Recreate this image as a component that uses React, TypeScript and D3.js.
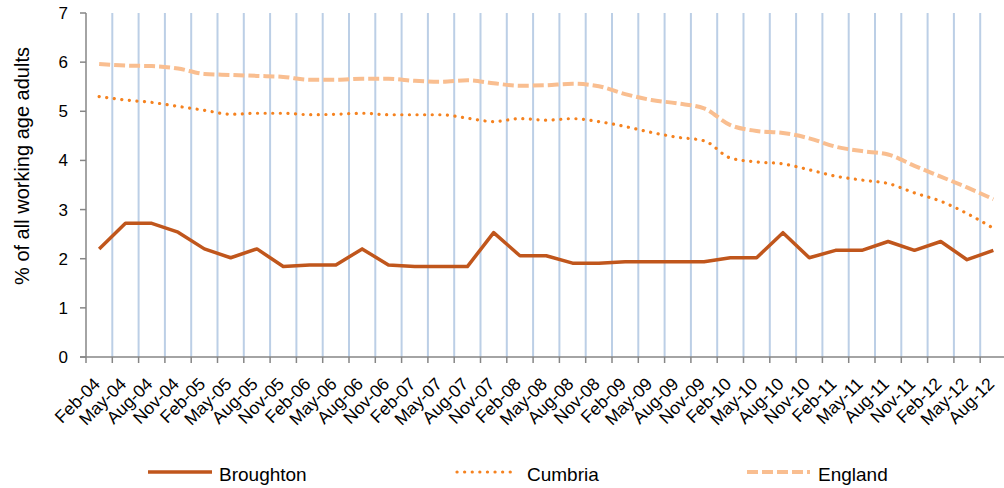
import React from "react";
import * as d3 from "d3";

const categories = [
  "Feb-04", "May-04", "Aug-04", "Nov-04",
  "Feb-05", "May-05", "Aug-05", "Nov-05",
  "Feb-06", "May-06", "Aug-06", "Nov-06",
  "Feb-07", "May-07", "Aug-07", "Nov-07",
  "Feb-08", "May-08", "Aug-08", "Nov-08",
  "Feb-09", "May-09", "Aug-09", "Nov-09",
  "Feb-10", "May-10", "Aug-10", "Nov-10",
  "Feb-11", "May-11", "Aug-11", "Nov-11",
  "Feb-12", "May-12", "Aug-12",
];

const broughton = [
  2.2, 2.72, 2.72, 2.54, 2.2, 2.02, 2.2, 1.84, 1.87, 1.87,
  2.2, 1.87, 1.84, 1.84, 1.84, 2.53, 2.06, 2.06, 1.91, 1.91,
  1.94, 1.94, 1.94, 1.94, 2.02, 2.02, 2.53, 2.02, 2.17, 2.17,
  2.35, 2.17, 2.35, 1.98, 2.17,
];

const cumbria = [
  5.3, 5.23, 5.18, 5.1, 5.02, 4.94, 4.96, 4.96, 4.93, 4.94,
  4.96, 4.93, 4.93, 4.93, 4.86, 4.79, 4.85, 4.82, 4.85, 4.79,
  4.69, 4.57, 4.47, 4.4, 4.05, 3.97, 3.93, 3.81, 3.68, 3.6,
  3.53, 3.34, 3.17, 2.92, 2.62,
];

const england = [
  5.96, 5.93, 5.92, 5.87, 5.76, 5.74, 5.72, 5.7, 5.64, 5.64,
  5.66, 5.66, 5.62, 5.6, 5.63, 5.57, 5.52, 5.53, 5.56, 5.51,
  5.35, 5.23, 5.16, 5.06, 4.72, 4.6, 4.56, 4.45, 4.28, 4.19,
  4.12, 3.89, 3.67, 3.45, 3.21,
];

const yTicks = [0, 1, 2, 3, 4, 5, 6, 7];

const seriesNames = ["Broughton", "Cumbria", "England"];

const W = 1004;
const H = 488;
const FONT = "'Liberation Sans', Arial, Helvetica, sans-serif";

const COL_B = "#c0561c";
const COL_C = "#f5821f";
const COL_E = "#f9be90";

export default function App() {
  const left = 86;
  const step = 26.3;
  const x = d3
    .scaleBand<string>()
    .domain(categories)
    .range([left, left + step * categories.length])
    .padding(0);
  const y = d3.scaleLinear().domain([0, 7]).range([357, 13]);
  const cx = (i: number) => (x(categories[i]) as number) + x.bandwidth() / 2;

  const straight = d3
    .line<number>()
    .x((_, i) => cx(i))
    .y((d) => y(d));
  const smooth = d3
    .line<number>()
    .x((_, i) => cx(i))
    .y((d) => y(d))
    .curve(d3.curveMonotoneX);

  const boundaries = d3.range(categories.length + 1).map((i) => left + i * x.step());

  const legend = [
    { name: seriesNames[0], x1: 148, x2: 212, tx: 219, color: COL_B, dash: "", w: 3.5, cap: "butt" },
    { name: seriesNames[1], x1: 457, x2: 512, tx: 527, color: COL_C, dash: "0.1,7.5", w: 3.2, cap: "round" },
    { name: seriesNames[2], x1: 747, x2: 810, tx: 818, color: COL_E, dash: "11,4", w: 4, cap: "butt" },
  ];

  return (
    <svg
      width={W}
      height={H}
      style={{ position: "absolute", left: 0, top: 0, background: "#fff" }}
      fontFamily={FONT}
    >
      <rect x={0} y={0} width={W} height={H} fill="#fff" />
      {/* vertical gridlines */}
      {boundaries.slice(1).map((bx, i) => (
        <line key={"g" + i} x1={bx} x2={bx} y1={y(7)} y2={y(0)} stroke="#bccfe6" strokeWidth={2} />
      ))}
      {/* y axis */}
      <line x1={left} x2={left} y1={y(7)} y2={y(0)} stroke="#868686" strokeWidth={1.5} />
      {yTicks.map((t) => (
        <g key={"yt" + t}>
          <line x1={left - 6} x2={left} y1={y(t)} y2={y(t)} stroke="#868686" strokeWidth={1.5} />
          <text x={68} y={y(t)} dy="0.35em" textAnchor="end" fontSize={17} fill="#000">
            {t}
          </text>
        </g>
      ))}
      {/* x axis */}
      <line x1={left - 6} x2={W + 10} y1={y(0)} y2={y(0)} stroke="#868686" strokeWidth={1.5} />
      {boundaries.map((bx, i) => (
        <line key={"xt" + i} x1={bx} x2={bx} y1={y(0)} y2={y(0) + 6} stroke="#868686" strokeWidth={1.5} />
      ))}
      {categories.map((c, i) => (
        <text
          key={"xl" + c}
          transform={`translate(${cx(i) + 2},${385}) rotate(-45)`}
          textAnchor="end"
          fontSize={17.5}
          fill="#000"
        >
          {c}
        </text>
      ))}
      {/* y title */}
      <text
        transform={`translate(29,166) rotate(-90)`}
        textAnchor="middle"
        fontSize={20}
        fill="#000"
      >
        % of all working age adults
      </text>
      {/* series */}
      <path d={smooth(england) || ""} fill="none" stroke={COL_E} strokeWidth={4} strokeDasharray="11,4" />
      <path
        d={smooth(cumbria) || ""}
        fill="none"
        stroke={COL_C}
        strokeWidth={3.2}
        strokeDasharray="0.1,7.5"
        strokeLinecap="round"
      />
      <path d={straight(broughton) || ""} fill="none" stroke={COL_B} strokeWidth={3.5} strokeLinejoin="round" />
      {/* legend */}
      {legend.map((l) => (
        <g key={"lg" + l.name}>
          <line
            x1={l.x1}
            x2={l.x2}
            y1={472}
            y2={472}
            stroke={l.color}
            strokeWidth={l.w}
            strokeDasharray={l.dash || undefined}
            strokeLinecap={l.cap as any}
          />
          <text x={l.tx} y={481} fontSize={19} fill="#000">
            {l.name}
          </text>
        </g>
      ))}
    </svg>
  );
}
